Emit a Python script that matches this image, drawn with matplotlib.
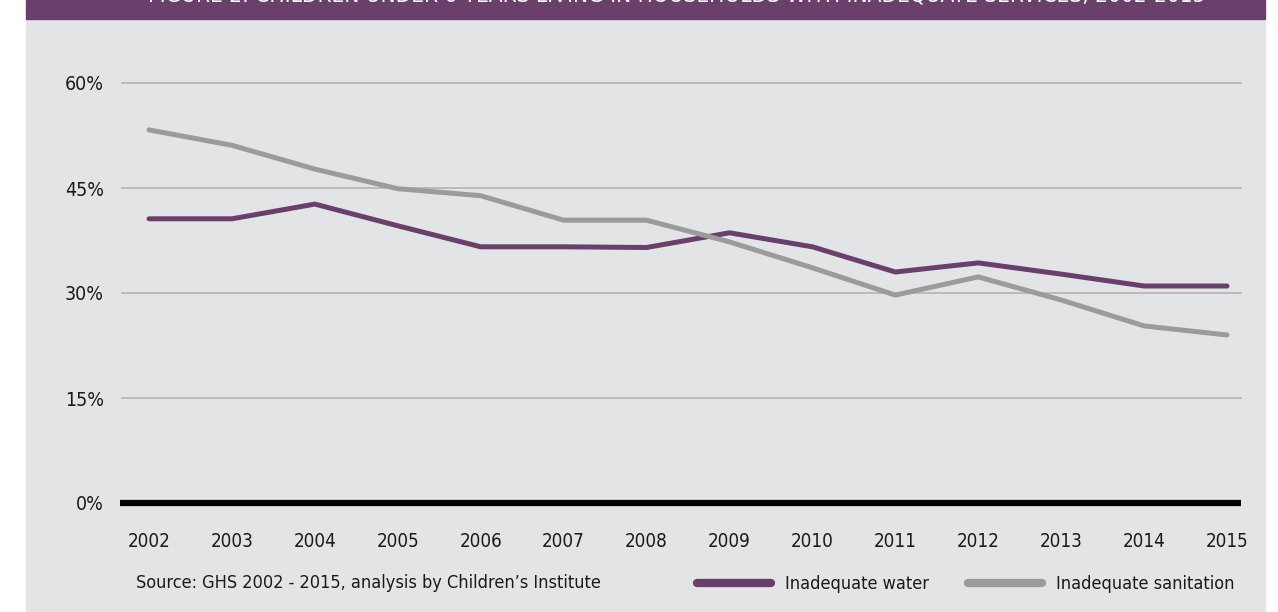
import numpy as np
import matplotlib
matplotlib.use("Agg")
import matplotlib.pyplot as plt
import matplotlib.patches as mpatches
from matplotlib.lines import Line2D

plt.rcParams['font.family'] = ['DejaVu Sans']
plt.rcParams['font.stretch'] = 'condensed'

# children living in households with inadequate services (%)
years = np.arange(2002, 2016)
water = [40.6, 40.6, 42.7, 39.6, 36.6, 36.6, 36.5, 38.6, 36.6, 33.0, 34.3, 32.7, 31.0, 31.0]
sanitation = [53.3, 51.1, 47.7, 44.9, 43.9, 40.4, 40.4, 37.3, 33.6, 29.7, 32.3, 29.0, 25.3, 24.0]
yticks = [0, 15, 30, 45, 60]
ytick_labels = ["0%", "15%", "30%", "45%", "60%"]
series_names = ["Inadequate water", "Inadequate sanitation"]
title = "FIGURE 2: CHILDREN UNDER 6 YEARS LIVING IN HOUSEHOLDS WITH INADEQUATE SERVICES, 2002-2015"
source = "Source: GHS 2002 - 2015, analysis by Children\u2019s Institute"

purple = '#6a3f6c'
grey = '#9b9b9b'
bg = '#e3e4e6'
ink = '#1a1a1a'
W, H = 1278, 612

fig = plt.figure(figsize=(W/100, H/100), dpi=100, facecolor='white')

# panel background and header band
fig.patches.append(mpatches.Rectangle((26/W, 0), (1265-26)/W, 1-19/H,
                                      transform=fig.transFigure, color=bg, zorder=-5))
fig.patches.append(mpatches.Rectangle((26/W, 1-19/H), (1265-26)/W, 19/H,
                                      transform=fig.transFigure, color=purple, zorder=-5))
fig.text(148/W, 1-1/H, title, color='white', fontsize=16.2, va='baseline', ha='left')

ax = fig.add_axes([122/W, 1-503/H, (1241-122)/W, (503-83)/H])
ax.set_zorder(2)
ax.patch.set_visible(False)
for s in ax.spines.values():
    s.set_visible(False)

for yv in yticks[1:]:
    ax.axhline(yv, color='#b7b7b7', lw=1.3, zorder=1, clip_on=False)
ax.axhline(0, xmin=-0.002, color='black', lw=4.5, zorder=3, clip_on=False,
           solid_capstyle='butt')

ax.plot(years, water, color=purple, lw=3.6, solid_capstyle='round', solid_joinstyle='round', zorder=4)
ax.plot(years, sanitation, color=grey, lw=3.6, solid_capstyle='round', solid_joinstyle='round', zorder=4)

ax.set_xlim(2001.674, 2015.169)
ax.set_ylim(0, 60)
ax.set_xticks(years)
ax.set_xticklabels([str(y) for y in years])
ax.set_yticks(yticks)
ax.set_yticklabels(ytick_labels)
ax.tick_params(axis='both', length=0, labelsize=14, colors=ink)
ax.tick_params(axis='x', labelsize=13.5, pad=21)
ax.tick_params(axis='y', pad=13)

fig.text(136/W, 1-583/H, source, fontsize=13, color=ink, va='center', ha='left')

handles = [Line2D([], [], color=purple, lw=6, solid_capstyle='round'),
           Line2D([], [], color=grey, lw=6, solid_capstyle='round')]
fig.legend(handles, series_names, loc='center left', bbox_to_anchor=(697/W, 1-584/H),
           ncol=2, frameon=False, fontsize=13, handlelength=4.1, handletextpad=0.75,
           columnspacing=2.2, borderpad=0, borderaxespad=0, labelcolor=ink)

fig.savefig('out.png', dpi=100, facecolor='white')
